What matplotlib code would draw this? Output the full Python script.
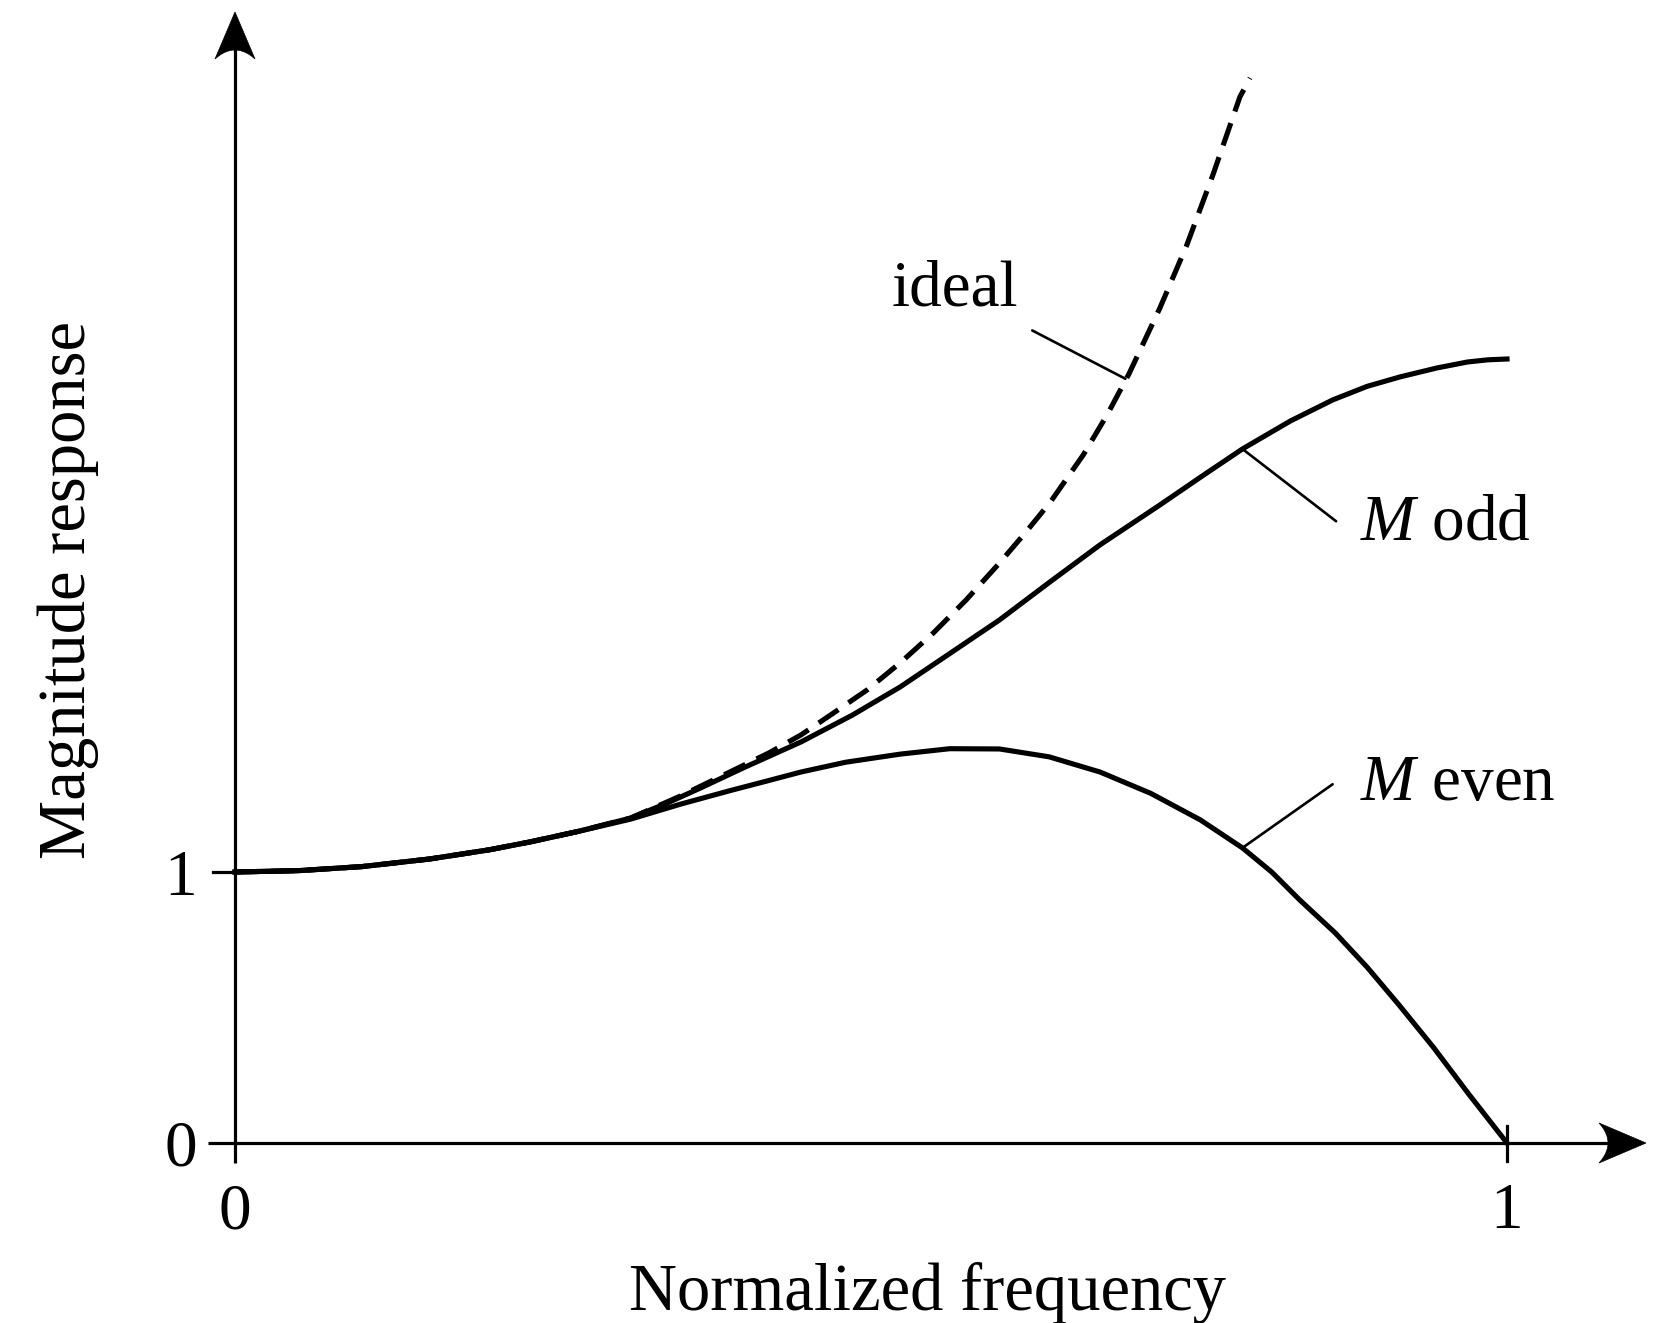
import numpy as np
import matplotlib
matplotlib.use("Agg")
import matplotlib.pyplot as plt
from matplotlib.patches import Polygon

plt.rcParams['font.family'] = ['Liberation Serif', 'DejaVu Serif']
plt.rcParams['mathtext.fontset'] = 'custom'
plt.rcParams['mathtext.rm'] = 'Liberation Serif'
plt.rcParams['mathtext.it'] = 'Liberation Serif:italic'

# ---- data ----
ideal_x = [0.0, 0.05, 0.10, 0.153, 0.20, 0.232, 0.27, 0.311, 0.35, 0.389, 0.42, 0.445,
           0.47, 0.497, 0.523, 0.549, 0.575, 0.601, 0.621, 0.641, 0.667, 0.686, 0.703,
           0.727, 0.748, 0.769, 0.790, 0.798]
ideal_y = [1.0, 1.005, 1.020, 1.048, 1.082, 1.111, 1.150, 1.199, 1.280, 1.369, 1.440, 1.506,
           1.585, 1.672, 1.772, 1.882, 2.005, 2.140, 2.250, 2.365, 2.540, 2.690, 2.840,
           3.080, 3.310, 3.575, 3.860, 3.930]

odd_x = [0.0, 0.05, 0.10, 0.153, 0.20, 0.232, 0.27, 0.311, 0.34, 0.366, 0.40, 0.445,
         0.485, 0.523, 0.56, 0.601, 0.64, 0.680, 0.727, 0.76, 0.792, 0.83, 0.863,
         0.89, 0.916, 0.945, 0.969, 0.985, 1.0]
odd_y = [1.0, 1.005, 1.020, 1.048, 1.082, 1.111, 1.150, 1.199, 1.255, 1.310, 1.385, 1.480,
         1.578, 1.683, 1.800, 1.930, 2.068, 2.207, 2.354, 2.460, 2.561, 2.665, 2.742,
         2.792, 2.827, 2.860, 2.882, 2.890, 2.893]

even_x = [0.0, 0.05, 0.10, 0.153, 0.20, 0.232, 0.27, 0.311, 0.35, 0.389, 0.42, 0.445,
          0.48, 0.523, 0.562, 0.601, 0.64, 0.680, 0.72, 0.759, 0.792, 0.815, 0.837,
          0.865, 0.890, 0.915, 0.942, 0.97, 1.0]
even_y = [1.0, 1.005, 1.020, 1.048, 1.082, 1.111, 1.150, 1.195, 1.250, 1.300, 1.338, 1.369,
          1.405, 1.435, 1.455, 1.454, 1.425, 1.369, 1.290, 1.192, 1.089, 1.000, 0.897,
          0.775, 0.649, 0.510, 0.354, 0.180, 0.0]

xtick_vals = [0, 1]
xtick_labels = ["0", "1"]
ytick_vals = [0, 1]
ytick_labels = ["0", "1"]

W, H, DPI = 1659, 1323, 100
fig = plt.figure(figsize=(W / DPI, H / DPI), dpi=DPI)
ax = fig.add_axes([0, 0, 1, 1])
ax.set_axis_off()

# pixel mapping: origin at (235, 1143), x=1 at 1507, y=1 at 872
x0p, y0p, sx, sy = 235.0, 1143.0, 1272.0, 271.0
ax.set_xlim(-x0p / sx, (W - x0p) / sx)
ax.set_ylim((y0p - H) / sy, y0p / sy)

def px(v):  # pixel length -> x data units
    return v / sx
def py(v):
    return v / sy

FS = 47
alw = 2.3

# axes lines
ax.plot([-px(27), (1610 - x0p) / sx], [0, 0], color='black', lw=alw, solid_capstyle='butt')
ax.plot([0, 0], [-py(20), (y0p - 45) / sy], color='black', lw=alw, solid_capstyle='butt')

# arrow heads (concave back)
def arrowhead(tip, direction):
    L, Wd, notch = 47.0, 40.0, 9.0
    t = np.linspace(-1, 1, 21)
    tx, ty = tip
    pts = [(tx, ty)]
    if direction == 'up':
        pts.append((tx + px(Wd / 2), ty - py(L)))
        for tt in t[::-1]:
            pts.append((tx + px(Wd / 2) * tt, ty - py(L) + py(notch) * (1 - tt ** 2)))
        pts.append((tx - px(Wd / 2), ty - py(L)))
    else:
        pts.append((tx - px(L), ty + py(Wd / 2)))
        for tt in t[::-1]:
            pts.append((tx - px(L) + px(notch) * (1 - tt ** 2), ty + py(Wd / 2) * tt))
        pts.append((tx - px(L), ty - py(Wd / 2)))
    ax.add_patch(Polygon(pts, closed=True, facecolor='black', edgecolor='black', lw=0.5))

arrowhead((0, (y0p - 12) / sy), 'up')
arrowhead(((1646 - x0p) / sx, 0), 'right')

# ticks
ax.plot([-px(22), 0], [1, 1], color='black', lw=alw)
ax.plot([1, 1], [-py(18), py(17)], color='black', lw=alw)

# curves
lw = 3.7
ax.plot(odd_x, odd_y, color='black', lw=lw, solid_joinstyle='round')
ax.plot(even_x, even_y, color='black', lw=lw, solid_joinstyle='round')
ax.plot(ideal_x, ideal_y, color='black', lw=lw, linestyle=(0, (4.6, 2.4)))

# tick labels
for v, lab in zip(ytick_vals, ytick_labels):
    ax.text(-px(38), v, lab, fontsize=FS, ha='right', va='center_baseline')
for v, lab in zip(xtick_vals, xtick_labels):
    ax.text(v, -py(40), lab, fontsize=FS, ha='center', va='top')

# annotations with leader lines
llw = 1.9
ax.annotate("ideal", xy=(0.700, 2.82), xytext=((1018 - x0p) / sx, (y0p - 306) / sy),
            fontsize=FS, ha='right', va='baseline',
            arrowprops=dict(arrowstyle='-', lw=llw, color='black', shrinkA=12, shrinkB=0))
ax.annotate("$M$ odd", xy=(0.792, 2.561), xytext=((1360 - x0p) / sx, (y0p - 540) / sy),
            fontsize=FS, ha='left', va='baseline',
            arrowprops=dict(arrowstyle='-', lw=llw, color='black', shrinkA=0, shrinkB=0,
                            relpos=(-0.14, 0.55)))
ax.annotate("$M$ even", xy=(0.792, 1.089), xytext=((1360 - x0p) / sx, (y0p - 800) / sy),
            fontsize=FS, ha='left', va='baseline',
            arrowprops=dict(arrowstyle='-', lw=llw, color='black', shrinkA=0, shrinkB=0,
                            relpos=(-0.14, 0.5)))

# axis labels
ax.text((927 - x0p) / sx, (y0p - 1310) / sy, "Normalized frequency", fontsize=FS + 1,
        ha='center', va='baseline')
ax.text(-(x0p - 68) / sx, (y0p - 590) / sy, "Magnitude response", fontsize=FS + 1,
        ha='center', va='center', rotation=90)

fig.savefig("out.png", dpi=DPI, facecolor='white')
